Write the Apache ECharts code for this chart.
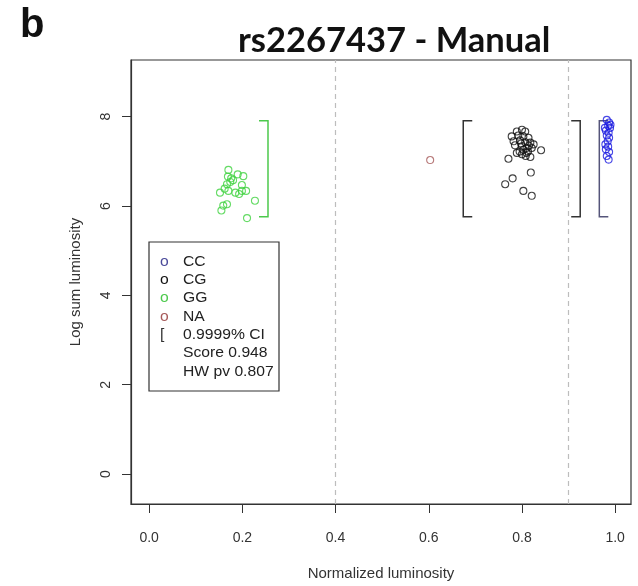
<!DOCTYPE html>
<html>
<head>
<meta charset="utf-8">
<script src="https://cdn.jsdelivr.net/npm/echarts@6/dist/echarts.min.js"></script>
<style>
  html, body { margin: 0; padding: 0; background: #fff; }
  #chart { width: 638px; height: 586px; }
</style>
</head>
<body>
<div id="chart"></div>
<script>
// genotype clusters
const ggX = [0.170, 0.190, 0.202, 0.169, 0.176, 0.180, 0.174, 0.167, 0.199, 0.162, 0.152,
             0.170, 0.185, 0.199, 0.208, 0.193, 0.227, 0.167, 0.159, 0.155, 0.210]
const ggY = [6.81, 6.71, 6.67, 6.66, 6.62, 6.58, 6.54, 6.49, 6.47, 6.39, 6.30,
             6.34, 6.30, 6.34, 6.34, 6.27, 6.12, 6.04, 6.01, 5.90, 5.73]

const cgX = [0.789, 0.800, 0.807, 0.778, 0.792, 0.803, 0.814, 0.782, 0.796, 0.807, 0.818,
             0.825, 0.785, 0.800, 0.810, 0.821, 0.841, 0.789, 0.800, 0.810, 0.818, 0.771,
             0.819, 0.780, 0.764, 0.803, 0.821, 0.803, 0.795, 0.813, 0.808, 0.815, 0.798]
const cgY = [7.67, 7.71, 7.67, 7.56, 7.58, 7.56, 7.53, 7.45, 7.47, 7.43, 7.42,
             7.38, 7.36, 7.34, 7.30, 7.30, 7.25, 7.19, 7.16, 7.19, 7.10, 7.06,
             6.75, 6.62, 6.49, 6.34, 6.23, 7.26, 7.22, 7.22, 7.12, 7.35, 7.40]

const ccX = [0.982, 0.987, 0.985, 0.989, 0.980, 0.986, 0.982, 0.987, 0.979, 0.985, 0.980,
             0.987, 0.982, 0.986, 0.990, 0.978, 0.984]
const ccY = [7.93, 7.87, 7.80, 7.75, 7.69, 7.64, 7.58, 7.53, 7.38, 7.33, 7.27,
             7.21, 7.12, 7.04, 7.82, 7.75, 7.45]

const naX = [0.603]
const naY = [7.03]

// 0.9999% CI brackets
const ciX = [0.255, 0.674, 0.925, 0.966]
const ciLow = [5.76, 5.76, 5.76, 5.76]
const ciHigh = [7.91, 7.91, 7.91, 7.91]
const ciSide = [-1, 1, -1, 1]   // which way the serifs point
const ciColor = ['#4cc94c', '#333333', '#333333', '#55557a']

// cluster borders (dashed)
const cutX = [0.4, 0.903]

const xTicks = [0, 0.2, 0.4, 0.6, 0.8, 1.0]
const yTicks = [0, 2, 4, 6, 8]

const legendSym = ['o', 'o', 'o', 'o', '[', '', '']
const legendSymColor = ['#4a4a9a', '#111111', '#4cc94c', '#a65a5a', '#333333', '#333', '#333']
const legendText = ['CC', 'CG', 'GG', 'NA', '0.9999% CI', 'Score 0.948', 'HW pv 0.807']

const zip = (xs, ys) => xs.map((x, i) => [x, ys[i]])

const chart = echarts.init(document.getElementById('chart'))

function pointSeries(name, xs, ys, color) {
  return {
    name: name,
    type: 'scatter',
    data: zip(xs, ys),
    symbol: 'circle',
    symbolSize: 7,
    itemStyle: { color: 'rgba(0,0,0,0)', borderColor: color, borderWidth: 1.1 },
    emphasis: { disabled: true },
    z: 3
  }
}

// legend block, drawn as plain text
const legendFont = '14px "Liberation Sans", Arial, sans-serif'
const legendGraphic = [{
  type: 'rect',
  shape: { x: 149, y: 242, width: 130, height: 149 },
  style: { fill: '#fff', stroke: '#333', lineWidth: 1.2 },
  z: 10
}]
legendText.forEach((t, i) => {
  const y = 263 + i * 18.3
  legendGraphic.push({
    type: 'text', x: 160, y: y - 8, z: 11, scaleX: 1.12,
    style: { text: legendSym[i], fill: legendSymColor[i], font: legendFont }
  })
  legendGraphic.push({
    type: 'text', x: 183, y: y - 8, z: 11, scaleX: 1.12,
    style: { text: t, fill: '#222', font: legendFont }
  })
})

const option = {
  backgroundColor: '#fff',
  animation: false,
  title: {
    text: 'rs2267437 - Manual',
    left: 233,
    top: 18,
    textStyle: { fontFamily: 'Lato', fontWeight: 'bold', fontSize: 34.5, color: '#111' }
  },
  graphic: [{
    type: 'text', left: 20, top: 6,
    style: { text: 'b', fill: '#111', font: 'bold 40px "Liberation Sans", Arial, sans-serif' }
  }].concat(legendGraphic),
  grid: {
    left: 131, right: 7, top: 60, bottom: 79,
    show: true, borderColor: '#333', borderWidth: 1.2, backgroundColor: '#fff'
  },
  xAxis: {
    type: 'value',
    min: -0.039, max: 1.034,
    name: 'Normalized luminosity',
    nameLocation: 'middle',
    nameGap: 62,
    nameTextStyle: { fontFamily: 'Liberation Sans', fontSize: 15, color: '#333' },
    axisLine: { show: true, onZero: false, lineStyle: { color: '#333', width: 1.2 } },
    axisTick: { show: true, length: 9, customValues: xTicks, lineStyle: { color: '#333' } },
    axisLabel: {
      customValues: xTicks, margin: 27, fontFamily: 'Liberation Sans', fontSize: 14, color: '#333',
      formatter: v => v.toFixed(1)
    },
    splitLine: { show: false }
  },
  yAxis: {
    type: 'value',
    min: -0.67, max: 9.27,
    name: 'Log sum luminosity',
    nameLocation: 'middle',
    nameGap: 48,
    nameTextStyle: { fontFamily: 'Liberation Sans', fontSize: 15, color: '#333' },
    axisLine: { show: true, onZero: false, lineStyle: { color: '#333', width: 1.2 } },
    axisTick: { show: true, length: 9, customValues: yTicks, lineStyle: { color: '#333' } },
    axisLabel: {
      customValues: yTicks, rotate: 90, margin: 18, fontFamily: 'Liberation Sans', fontSize: 14, color: '#333'
    },
    splitLine: { show: false }
  },
  series: [
    {
      type: 'line',
      data: [],
      silent: true,
      markLine: {
        symbol: 'none',
        silent: true,
        label: { show: false },
        lineStyle: { color: '#bdbdbd', type: [5, 4], width: 1.2 },
        data: cutX.map(x => ({ xAxis: x }))
      }
    },
    {
      type: 'custom',
      silent: true,
      data: ciX.map((x, i) => [x, ciLow[i], ciHigh[i], ciSide[i], i]),
      renderItem: (params, api) => {
        const x = api.value(0)
        const top = api.coord([x, api.value(2)])
        const bot = api.coord([x, api.value(1)])
        const s = api.value(3) * 9
        return {
          type: 'polyline',
          shape: { points: [[top[0] + s, top[1]], top, bot, [bot[0] + s, bot[1]]] },
          style: { fill: 'none', stroke: ciColor[api.value(4)], lineWidth: 1.5 }
        }
      },
      z: 2
    },
    pointSeries('GG', ggX, ggY, '#3fd23f'),
    pointSeries('CG', cgX, cgY, '#111111'),
    pointSeries('CC', ccX, ccY, '#1a1ae0'),
    pointSeries('NA', naX, naY, '#a65a5a')
  ]
}

chart.setOption(option)
</script>
</body>
</html>
